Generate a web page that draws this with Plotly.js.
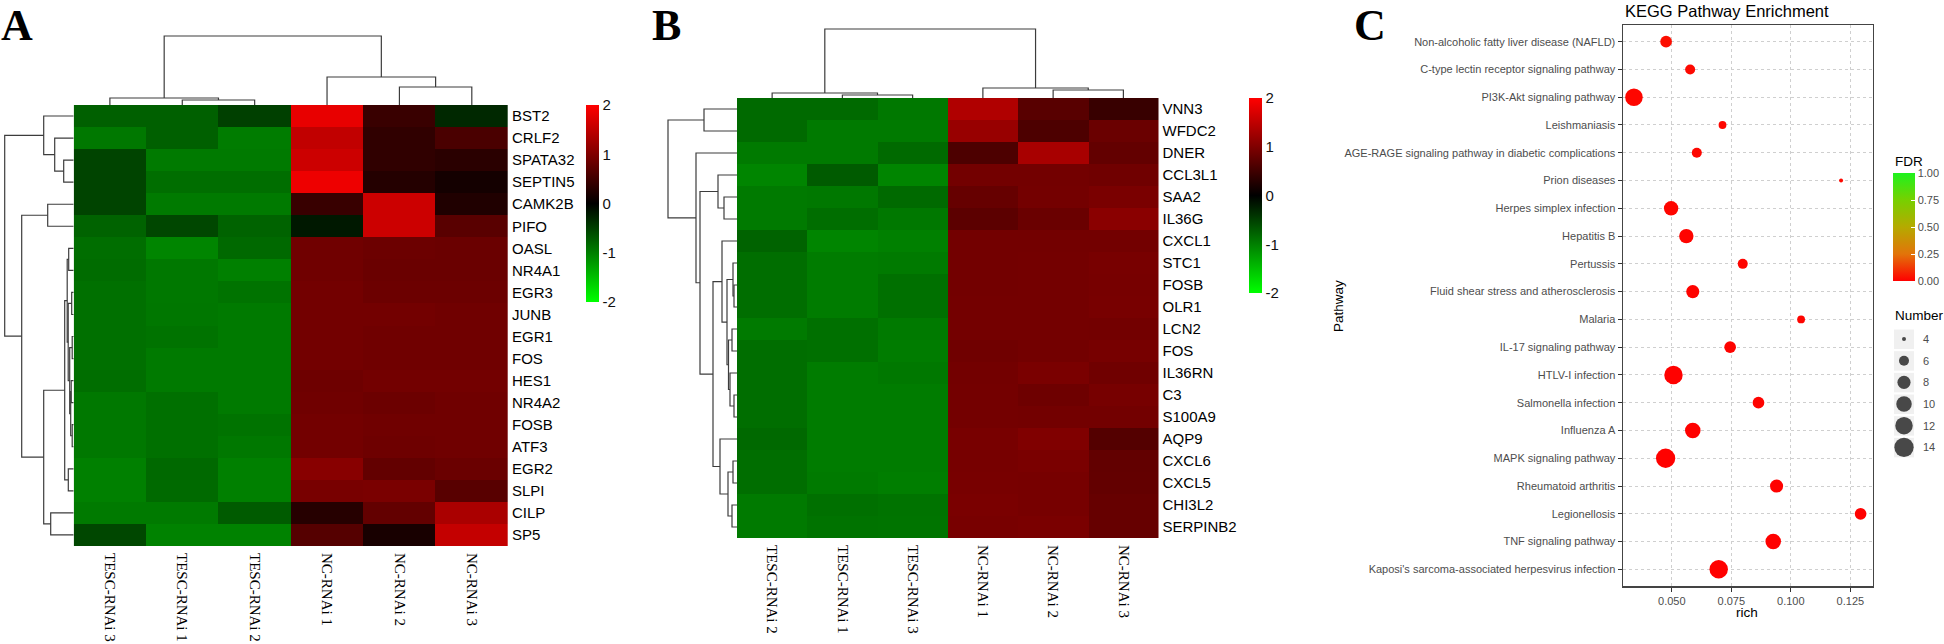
<!DOCTYPE html>
<html><head><meta charset="utf-8">
<script src="https://cdn.plot.ly/plotly-3.0.1.min.js"></script>
<style>html,body{margin:0;padding:0;background:#fff}#chart{width:1944px;height:644px}</style>
</head><body><div id="chart"></div>
<script>
const W = 1944, H = 644;

// ---------- Panel A data ----------
const samplesA = ['TESC-RNAi 3','TESC-RNAi 1','TESC-RNAi 2','NC-RNAi 1','NC-RNAi 2','NC-RNAi 3'];
const genesA = ['BST2','CRLF2','SPATA32','SEPTIN5','CAMK2B','PIFO','OASL','NR4A1','EGR3','JUNB','EGR1','FOS','HES1','NR4A2','FOSB','ATF3','EGR2','SLPI','CILP','SP5'];
const zA = [
  [-0.75,-0.75,-0.50, 1.82, 0.45,-0.31],
  [-0.94,-0.75,-0.97, 1.51, 0.38, 0.58],
  [-0.53,-0.96,-0.96, 1.60, 0.38, 0.33],
  [-0.53,-0.86,-0.86, 1.87, 0.28, 0.16],
  [-0.53,-0.96,-0.96, 0.44, 1.60, 0.25],
  [-0.78,-0.56,-0.78,-0.19, 1.60, 0.70],
  [-0.86,-1.04,-0.82, 0.88, 0.85, 0.83],
  [-0.85,-0.94,-1.00, 0.88, 0.83, 0.83],
  [-0.88,-0.94,-0.90, 0.90, 0.85, 0.85],
  [-0.88,-0.93,-0.96, 0.90, 0.90, 0.88],
  [-0.88,-0.90,-0.96, 0.90, 0.88, 0.88],
  [-0.88,-0.96,-0.96, 0.90, 0.88, 0.88],
  [-0.86,-0.96,-0.96, 0.86, 0.90, 0.90],
  [-0.94,-0.88,-0.96, 0.88, 0.85, 0.88],
  [-0.94,-0.88,-0.90, 0.90, 0.88, 0.88],
  [-0.94,-0.88,-0.94, 0.90, 0.86, 0.88],
  [-1.00,-0.82,-1.00, 1.07, 0.78, 0.83],
  [-1.00,-0.83,-1.00, 0.94, 0.96, 0.69],
  [-0.96,-0.96,-0.71, 0.30, 0.78, 1.33],
  [-0.56,-1.02,-1.02, 0.67, 0.19, 1.54]
];
// dendrogram merges (hclust style: -k = leaf k-1, +k = merge k), third item = height
const colMergeA = [[-2,-3,5],[-1,1,7],[-5,-6,18],[-4,3,28],[2,4,69]];
const rowMergeA = [
  [-3,-4,10],[-2,1,19],[-1,2,30],[-5,-6,26],
  [-7,-8,5],[-9,-10,2],[-11,-12,1.5],[-13,-14,2.5],[-15,-16,1.5],
  [8,9,3],[7,10,4],[6,11,5.5],[5,12,6.5],
  [-17,-18,5.4],[13,14,9],[-19,-20,23],[15,16,30],[4,17,52],[3,18,69]
];

// ---------- Panel B data ----------
const samplesB = ['TESC-RNAi 2','TESC-RNAi 1','TESC-RNAi 3','NC-RNAi 1','NC-RNAi 2','NC-RNAi 3'];
const genesB = ['VNN3','WFDC2','DNER','CCL3L1','SAA2','IL36G','CXCL1','STC1','FOSB','OLR1','LCN2','FOS','IL36RN','C3','S100A9','AQP9','CXCL6','CXCL5','CHI3L2','SERPINB2'];
const zB = [
  [-0.83,-0.83,-0.94, 1.38, 0.69, 0.44],
  [-0.83,-0.96,-0.96, 1.19, 0.60, 0.83],
  [-0.96,-0.96,-0.83, 0.60, 1.32, 0.78],
  [-1.04,-0.71,-1.04, 0.90, 0.90, 0.88],
  [-0.96,-0.94,-0.83, 0.80, 0.91, 0.96],
  [-0.96,-0.86,-0.94, 0.72, 0.83, 1.08],
  [-0.78,-1.04,-1.00, 0.90, 0.90, 0.90],
  [-0.86,-0.97,-0.96, 0.90, 0.91, 0.94],
  [-0.86,-0.97,-0.88, 0.90, 0.91, 0.93],
  [-0.86,-0.97,-0.88, 0.91, 0.91, 0.94],
  [-0.96,-0.88,-0.96, 0.91, 0.91, 0.90],
  [-0.86,-0.88,-0.97, 0.88, 0.90, 0.93],
  [-0.86,-0.97,-0.94, 0.90, 0.96, 0.88],
  [-0.86,-0.97,-0.97, 0.91, 0.86, 0.93],
  [-0.86,-0.97,-0.97, 0.91, 0.90, 0.90],
  [-0.82,-0.97,-0.97, 0.94, 1.00, 0.66],
  [-0.86,-0.97,-0.97, 0.93, 0.96, 0.77],
  [-0.86,-0.96,-0.99, 0.94, 0.93, 0.78],
  [-0.96,-0.88,-0.90, 0.96, 0.93, 0.80],
  [-0.96,-0.90,-0.91, 0.94, 0.96, 0.80]
];
const colMergeB = [[-2,-3,3],[-1,1,5],[-5,-6,8],[-4,3,10],[2,4,69]];
const rowMergeB = [
  [-1,-2,33],[-5,-6,13],[-4,2,19],[-9,-10,3],[-8,4,4],[-11,-12,5],[-14,-15,3],
  [-13,7,7],[6,8,8.5],[5,9,10],[-7,10,15],[-17,-18,4],[-19,-20,5],[12,13,9],
  [-16,14,17],[11,15,24],[3,16,37],[-3,17,41],[1,18,69]
];

// ---------- Panel C data ----------
const pathways = ['Non-alcoholic fatty liver disease (NAFLD)','C-type lectin receptor signaling pathway','PI3K-Akt signaling pathway','Leishmaniasis','AGE-RAGE signaling pathway in diabetic complications','Prion diseases','Herpes simplex infection','Hepatitis B','Pertussis','Fluid shear stress and atherosclerosis','Malaria','IL-17 signaling pathway','HTLV-I infection','Salmonella infection','Influenza A','MAPK signaling pathway','Rheumatoid arthritis','Legionellosis','TNF signaling pathway',"Kaposi's sarcoma-associated herpesvirus infection"];
const rich = [0.0476,0.0577,0.0341,0.0713,0.0605,0.1211,0.0497,0.0561,0.0798,0.0588,0.1043,0.0745,0.0507,0.0864,0.0588,0.0474,0.0940,0.1293,0.0926,0.0697];
const numberGenes = [7,6,12,5,6,4,9,9,6,8,5,7,13,7,10,14,8,7,10,13];
const fdr = [0.03,0.02,0.012,0.012,0.015,0.02,0.01,0.008,0.01,0.006,0.01,0.006,0.003,0.006,0.003,0.003,0.004,0.003,0.002,0.002];
const sizeLegend = [4,6,8,10,12,14];
const fdrTicks = [0,0.25,0.5,0.75,1];

// ---------- helpers ----------
const fx = p => p / W;
const fy = p => 1 - p / H;
function dendro(merges){
  const pos = [], hts = [], a = [], h = [];
  const get = k => k < 0 ? {p:-k-1, h:0} : {p:pos[k-1], h:hts[k-1]};
  merges.forEach((m, i) => {
    const L = get(m[0]), R = get(m[1]);
    a.push(L.p, L.p, R.p, R.p, null);
    h.push(L.h, m[2], m[2], R.h, null);
    pos[i] = (L.p + R.p) / 2; hts[i] = m[2];
  });
  return {a, h};
}
const idx = n => Array.from({length:n}, (_, i) => i);
const sansF = 'Liberation Sans, Arial, sans-serif';
const serifF = 'Liberation Serif, Times New Roman, serif';
const heatScale = [[0,'#00FF00'],[0.5,'#000000'],[1,'#FF0000']];
const dLine = {color:'#3c3c3c', width:1.2};
const sz = n => Math.max(4, 2.5 + 16.8 * Math.sqrt((n - 4) / 10));

const dCA = dendro(colMergeA), dRA = dendro(rowMergeA);
const dCB = dendro(colMergeB), dRB = dendro(rowMergeB);

const hmColorbar = (xpx, ypx, lenpx, th) => ({
  x: fx(xpx), xanchor:'left', y: fy(ypx), yanchor:'top', len: lenpx, lenmode:'pixels',
  thickness: th, thicknessmode:'pixels', xpad:0, ypad:0, outlinewidth:0,
  tickvals:[-2,-1,0,1,2], ticktext:['-2','-1','0','1','2'], ticks:'', ticklabelpad:3,
  tickfont:{family:sansF, size:15, color:'#111'}
});

const traces = [
  {type:'heatmap', x:idx(6), y:idx(20), z:zA, xaxis:'x', yaxis:'y', colorscale:heatScale, zmin:-2, zmax:2,
   xgap:0, ygap:0, hoverinfo:'skip', colorbar: hmColorbar(586, 105, 197, 13)},
  {type:'heatmap', x:idx(6), y:idx(20), z:zB, xaxis:'x2', yaxis:'y2', colorscale:heatScale, zmin:-2, zmax:2,
   xgap:0, ygap:0, hoverinfo:'skip', colorbar: hmColorbar(1249, 98, 195, 12.6)},
  {type:'scatter', mode:'lines', x:dCA.a, y:dCA.h, xaxis:'x', yaxis:'y3', line:dLine, hoverinfo:'skip', showlegend:false},
  {type:'scatter', mode:'lines', x:dRA.h, y:dRA.a, xaxis:'x4', yaxis:'y', line:dLine, hoverinfo:'skip', showlegend:false},
  {type:'scatter', mode:'lines', x:dCB.a, y:dCB.h, xaxis:'x2', yaxis:'y5', line:dLine, hoverinfo:'skip', showlegend:false},
  {type:'scatter', mode:'lines', x:dRB.h, y:dRB.a, xaxis:'x6', yaxis:'y2', line:dLine, hoverinfo:'skip', showlegend:false},
  {type:'scatter', mode:'markers', x:rich, y:idx(pathways.length), xaxis:'x7', yaxis:'y7', showlegend:false,
   marker:{size:numberGenes.map(sz), color:fdr, cmin:0, cmax:1,
     colorscale:[[0,'#FF0000'],[0.25,'#E2740A'],[0.5,'#B5AA00'],[0.75,'#77D000'],[1,'#1EF21E']],
     line:{width:0}, opacity:1,
     colorbar:{x:fx(1893), xanchor:'left', y:fy(173), yanchor:'top', len:108, lenmode:'pixels',
       thickness:22, thicknessmode:'pixels', xpad:0, ypad:0, outlinewidth:0,
       tickvals:fdrTicks, ticktext:fdrTicks.map(v=>v.toFixed(2)), ticks:'inside', ticklen:4, tickcolor:'#ffffff', tickwidth:1,
       tickfont:{family:sansF, size:11, color:'#4d4d4d'}}}},
  {type:'scatter', mode:'markers', x:sizeLegend.map(()=>1904), y:sizeLegend.map((v,i)=>339 + i*21.67),
   xaxis:'x8', yaxis:'y8', showlegend:false, hoverinfo:'skip',
   marker:{size:sizeLegend.map(sz), color:'#000000', line:{width:0}}}
];

const hidden = {visible:false, showgrid:false, zeroline:false, fixedrange:true};
const shapes = sizeLegend.map((v,i)=>({type:'rect', xref:'paper', yref:'paper', layer:'below',
  x0:fx(1894), x1:fx(1914), y0:fy(329.5 + i*21.67), y1:fy(349 + i*21.67),
  fillcolor:'#F0F0F0', line:{width:0}}));

const ann = (text, xpx, ypx, opts) => Object.assign({text, x:fx(xpx), y:fy(ypx), xref:'paper', yref:'paper',
  showarrow:false, xanchor:'center', yanchor:'middle'}, opts);

const annotations = [
  ann('<b>A</b>', 0, 0, {xanchor:'left', yanchor:'top', borderpad:0, font:{family:serifF, size:44, color:'#000'}}),
  ann('<b>B</b>', 651, 0, {xanchor:'left', yanchor:'top', borderpad:0, font:{family:serifF, size:44, color:'#000'}}),
  ann('<b>C</b>', 1353, 0, {xanchor:'left', yanchor:'top', borderpad:0, font:{family:serifF, size:44, color:'#000'}}),
  ann('KEGG Pathway Enrichment', 1623, 11, {xanchor:'left', font:{family:sansF, size:16.5, color:'#000'}}),
  ann('Pathway', 1339, 306, {textangle:-90, font:{family:sansF, size:13.5, color:'#000'}}),
  ann('rich', 1747, 612, {font:{family:sansF, size:13.5, color:'#000'}}),
  ann('FDR', 1893, 161, {xanchor:'left', font:{family:sansF, size:13.5, color:'#000'}}),
  ann('Number', 1893, 316, {xanchor:'left', font:{family:sansF, size:13.5, color:'#000'}})
].concat(sizeLegend.map((v,i)=>ann(String(v), 1921, 339 + i*21.67, {xanchor:'left', font:{family:sansF, size:11, color:'#4d4d4d'}})));

const layout = {
  width:W, height:H, margin:{l:0,r:0,t:0,b:0}, paper_bgcolor:'#ffffff', plot_bgcolor:'rgba(0,0,0,0)',
  showlegend:false, shapes, annotations,
  // Panel A heatmap
  xaxis:{domain:[fx(73.7), fx(508)], anchor:'y', range:[-0.5,5.5], tickvals:idx(6), ticktext:samplesA,
    tickangle:90, ticks:'', ticklabelstandoff:6, showgrid:false, zeroline:false, showline:false,
    tickfont:{family:serifF, size:15, color:'#000'}, fixedrange:true},
  yaxis:{domain:[fy(546), fy(105)], anchor:'x', side:'right', range:[19.5,-0.5], tickvals:idx(20), ticktext:genesA,
    ticks:'', ticklabelstandoff:3, showgrid:false, zeroline:false, showline:false,
    tickfont:{family:sansF, size:15, color:'#000'}, fixedrange:true},
  yaxis3:Object.assign({domain:[fy(105), 1], anchor:'x', range:[0,105]}, hidden),
  xaxis4:Object.assign({domain:[0, fx(73.7)], anchor:'y', range:[73.7,0]}, hidden),
  // Panel B heatmap
  xaxis2:{domain:[fx(737), fx(1158.5)], anchor:'y2', range:[-0.5,5.5], tickvals:idx(6), ticktext:samplesB,
    tickangle:90, ticks:'', ticklabelstandoff:6, showgrid:false, zeroline:false, showline:false,
    tickfont:{family:serifF, size:15, color:'#000'}, fixedrange:true},
  yaxis2:{domain:[fy(538), fy(98)], anchor:'x2', side:'right', range:[19.5,-0.5], tickvals:idx(20), ticktext:genesB,
    ticks:'', ticklabelstandoff:3, showgrid:false, zeroline:false, showline:false,
    tickfont:{family:sansF, size:15, color:'#000'}, fixedrange:true},
  yaxis5:Object.assign({domain:[fy(98), 1], anchor:'x2', range:[0,98]}, hidden),
  xaxis6:Object.assign({domain:[fx(657), fx(737)], anchor:'y2', range:[80,0]}, hidden),
  // Panel C
  xaxis7:{domain:[fx(1623), fx(1872.5)], anchor:'y7', range:[0.0295,0.1343],
    tickvals:[0.05,0.075,0.1,0.125], ticktext:['0.050','0.075','0.100','0.125'],
    ticks:'outside', ticklen:4, tickcolor:'#333', tickwidth:1,
    showline:true, linecolor:'#444', linewidth:1.5, mirror:true,
    showgrid:true, gridcolor:'#cfcfcf', griddash:'dot', gridwidth:1, zeroline:false,
    tickfont:{family:sansF, size:11, color:'#4d4d4d'}, fixedrange:true},
  yaxis7:{domain:[fy(586), fy(25)], anchor:'x7', range:[19.6,-0.6], tickvals:idx(pathways.length), ticktext:pathways,
    ticks:'outside', ticklen:4, tickcolor:'#333', tickwidth:1,
    showline:true, linecolor:'#444', linewidth:1.5, mirror:true,
    showgrid:true, gridcolor:'#cfcfcf', griddash:'dot', gridwidth:1, zeroline:false,
    tickfont:{family:sansF, size:11, color:'#4d4d4d'}, fixedrange:true},
  xaxis8:Object.assign({domain:[fx(1885), fx(1944)], anchor:'y8', range:[1885,1944]}, hidden),
  yaxis8:Object.assign({domain:[fy(470), fy(320)], anchor:'x8', range:[470,320]}, hidden)
};

Plotly.newPlot('chart', traces, layout, {staticPlot:true, displayModeBar:false});
</script>
</body></html>
